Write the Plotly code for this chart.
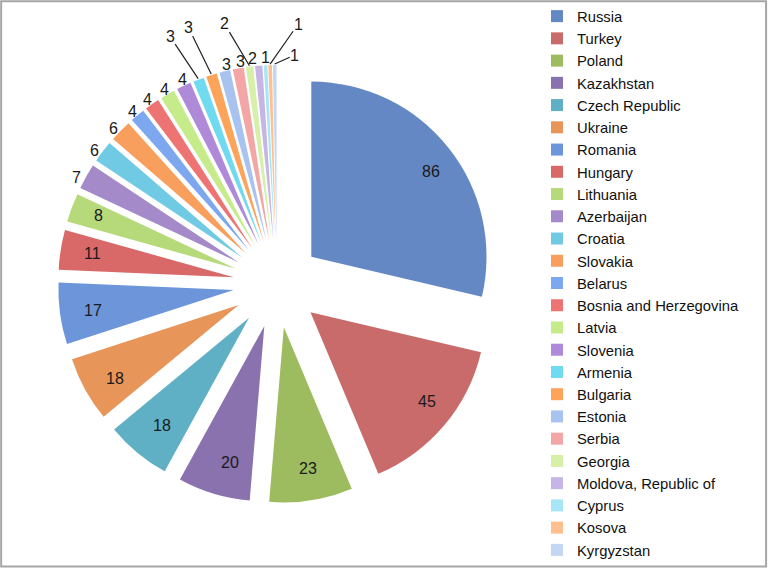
import math
import plotly.graph_objects as go

countries = ["Russia", "Turkey", "Poland", "Kazakhstan", "Czech Republic", "Ukraine",
             "Romania", "Hungary", "Lithuania", "Azerbaijan", "Croatia", "Slovakia",
             "Belarus", "Bosnia and Herzegovina", "Latvia", "Slovenia", "Armenia",
             "Bulgaria", "Estonia", "Serbia", "Georgia", "Moldova, Republic of",
             "Cyprus", "Kosova", "Kyrgyzstan"]
values = [86, 45, 23, 20, 18, 18, 17, 11, 8, 7, 6, 6, 4, 4, 4, 4, 3, 3, 3, 3, 2, 2, 1, 1, 1]
colors = ["#6488C4", "#C96B6A", "#9DBB5F", "#8A72AE", "#5FAFC5", "#E8955A",
          "#6C95DA", "#D96969", "#B6D97A", "#A48AC9", "#70CAE4", "#F99F5D",
          "#7DA7EE", "#EE7474", "#C6EB8A", "#AE8AD8", "#6FDAF0", "#FDA35A",
          "#A9C3F0", "#F4A6A6", "#D6F0A8", "#C6B6E6", "#A6E6F6", "#FFBF8E", "#C4D6F4"]

# ---- layout / style parameters ----
W, H = 768, 568
CX, CY = 277, 284          # pie centre (px)
DOM = 438                  # pie domain size (px)
PULL = 0.25
N_INSIDE = 9               # first slices carry their label inside
# leader-line label offsets (px) for the crowded small slices
LEADERS = {"Armenia": (-28, -42), "Bulgaria": (-23, -47), "Georgia": (-25, -42),
           "Kosova": (28, -40), "Kyrgyzstan": (20, -9)}
# small horizontal nudges (px) so adjacent labels do not collide
NUDGE = {"Moldova, Republic of": -5, "Cyprus": 1}
LABEL_FONT = dict(family="Liberation Sans, Arial, sans-serif", size=16, color="#1a1a1a")

R = DOM / 2 / (1 + PULL)
PULL_PX = PULL * R

fig = go.Figure(go.Pie(
    labels=countries,
    values=values,
    sort=False,
    direction="clockwise",
    rotation=0,
    pull=PULL,
    marker=dict(colors=colors, line=dict(width=0)),
    textinfo="none",
    domain=dict(x=[(CX - DOM / 2) / W, (CX + DOM / 2) / W],
                y=[1 - (CY + DOM / 2) / H, 1 - (CY - DOM / 2) / H]),
    hoverinfo="label+value",
))

# value labels placed at each slice's mid-angle (derived from the values)
total = sum(values)
annotations = []
cum = 0
for i, (name, v) in enumerate(zip(countries, values)):
    theta = (cum + v / 2) / total * 2 * math.pi
    cum += v
    ux, uy = math.sin(theta), -math.cos(theta)
    if i < N_INSIDE:
        rad = PULL_PX + 0.87 * R
        px, py = CX + rad * ux, CY + rad * uy
        annotations.append(dict(x=px / W, y=1 - py / H, xref="paper", yref="paper",
                                text=str(v), showarrow=False, font=LABEL_FONT, borderpad=0))
    elif name in LEADERS:
        rad = PULL_PX + R + 1
        px, py = CX + rad * ux, CY + rad * uy
        ax, ay = LEADERS[name]
        annotations.append(dict(x=px / W, y=1 - py / H, xref="paper", yref="paper",
                                text=str(v), showarrow=True, ax=ax, ay=ay,
                                arrowhead=0, arrowwidth=1.2, arrowcolor="#222222",
                                standoff=0, font=LABEL_FONT, borderpad=0))
    else:
        rad = PULL_PX + R + 17
        px, py = CX + rad * ux, CY + rad * uy
        annotations.append(dict(x=px / W, y=1 - py / H, xref="paper", yref="paper",
                                text=str(v), showarrow=False, font=LABEL_FONT, borderpad=0,
                                xshift=NUDGE.get(name, 0)))

fig.update_layout(
    width=W, height=H,
    margin=dict(l=0, r=0, t=0, b=0, autoexpand=False),
    paper_bgcolor="white",
    plot_bgcolor="white",
    font=dict(family="Liberation Sans, Arial, sans-serif", color="#111111"),
    legend=dict(x=537 / W, y=1.0, xanchor="left", yanchor="top",
                font=dict(size=14.8), bgcolor="rgba(0,0,0,0)", traceorder="normal"),
    annotations=annotations,
    shapes=[dict(type="rect", xref="paper", yref="paper", x0=0.0015, y0=0.0025, x1=0.9975, y1=0.998,
                 line=dict(color="#A6A6A6", width=2))],
)

fig.write_html("out.html", config={"displayModeBar": False},
               post_script="document.body.style.margin='0px';")
